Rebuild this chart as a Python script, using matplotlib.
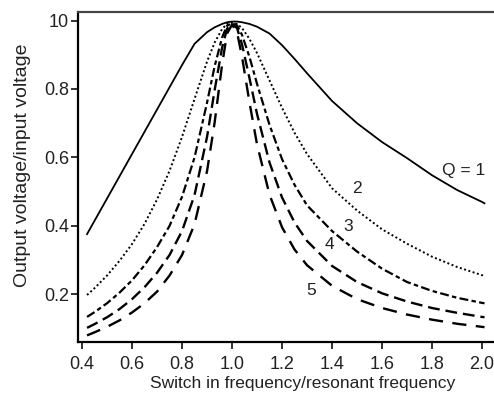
import matplotlib
matplotlib.use("Agg")
import matplotlib.pyplot as plt

plt.rcParams['font.family'] = ['Liberation Sans', 'DejaVu Sans']

# frequency ratio (switching / resonant)
freq = [0.42, 0.45, 0.5, 0.55, 0.6, 0.65, 0.7, 0.75, 0.8, 0.85, 0.9, 0.93,
        0.96, 0.98, 1.0, 1.02, 1.04, 1.07, 1.1, 1.15, 1.2, 1.25, 1.3, 1.4,
        1.5, 1.6, 1.7, 1.8, 1.9, 2.0, 2.01]

# output/input voltage
q1 = [0.376, 0.415, 0.480, 0.545, 0.610, 0.675, 0.740, 0.805, 0.870, 0.932,
      0.966, 0.980, 0.990, 0.995, 0.997, 0.997, 0.995, 0.990, 0.982, 0.962,
      0.928, 0.888, 0.846, 0.765, 0.700, 0.645, 0.598, 0.548, 0.505, 0.470, 0.466]
q2 = [0.198, 0.218, 0.255, 0.298, 0.347, 0.406, 0.477, 0.561, 0.660, 0.771,
      0.880, 0.935, 0.975, 0.990, 0.993, 0.990, 0.978, 0.946, 0.905, 0.825,
      0.745, 0.672, 0.610, 0.510, 0.445, 0.390, 0.348, 0.310, 0.280, 0.256, 0.254]
q3 = [0.134, 0.148, 0.174, 0.205, 0.241, 0.285, 0.338, 0.400, 0.485, 0.600,
      0.760, 0.865, 0.950, 0.985, 0.992, 0.986, 0.958, 0.893, 0.815, 0.695,
      0.595, 0.520, 0.460, 0.385, 0.325, 0.275, 0.236, 0.210, 0.190, 0.175, 0.174]
q4 = [0.102, 0.113, 0.133, 0.157, 0.186, 0.221, 0.263, 0.315, 0.385, 0.490,
      0.660, 0.795, 0.920, 0.976, 0.990, 0.978, 0.930, 0.831, 0.727, 0.585,
      0.483, 0.410, 0.356, 0.283, 0.236, 0.203, 0.179, 0.160, 0.146, 0.134, 0.133]
q5 = [0.080, 0.089, 0.105, 0.124, 0.147, 0.174, 0.208, 0.255, 0.315, 0.405,
      0.560, 0.700, 0.870, 0.962, 0.988, 0.966, 0.894, 0.760, 0.638, 0.491,
      0.396, 0.331, 0.285, 0.225, 0.186, 0.160, 0.141, 0.126, 0.114, 0.105, 0.104]

labels = ['Q = 1', '2', '3', '4', '5']
label_x = [1.926, 1.50, 1.465, 1.388, 1.316]
label_y = [0.563, 0.51, 0.398, 0.347, 0.21]

xticks = [0.4, 0.6, 0.8, 1.0, 1.2, 1.4, 1.6, 1.8, 2.0]
yticks = [0.2, 0.4, 0.6, 0.8, 1.0]
ytick_labels = ['0.2', '0.4', '0.6', '0.8', '10']

fig = plt.figure(figsize=(4.94, 3.95), dpi=100)
ax = fig.add_axes([0.158, 0.134, 0.842, 0.836])

ax.plot(freq, q1, color='black', lw=1.3, ls='-')
ax.plot(freq, q2, color='black', lw=1.4, ls=(0, (1, 1.3)))
ax.plot(freq, q3, color='black', lw=1.6, ls=(0, (4, 1.5, 2, 1.5)))
ax.plot(freq, q4, color='black', lw=1.7, ls=(0, (5, 2.5)))
ax.plot(freq, q5, color='black', lw=1.7, ls=(0, (6, 4)))

for t, x, y in zip(labels, label_x, label_y):
    ax.text(x, y, t, ha='center', va='center', fontsize=12.5, color='#222222')

ax.set_xlim(0.384, 2.048)
ax.set_ylim(0.0605, 1.0254)
ax.set_xticks(xticks)
ax.set_xticklabels([f'{v:.1f}' for v in xticks])
ax.set_yticks(yticks)
ax.set_yticklabels(ytick_labels)
ax.tick_params(direction='out', length=5, width=1.3, labelsize=13,
               colors='#222222')
ax.tick_params(axis='x', pad=5)
ax.tick_params(axis='y', pad=1.5)

ax.spines['right'].set_visible(False)
ax.spines['left'].set_linewidth(1.6)
ax.spines['bottom'].set_linewidth(1.6)
ax.spines['top'].set_linewidth(1.6)
ax.spines['top'].set_color('#444444')

ax.set_xlabel('Switch in frequency/resonant frequency', fontsize=12.5, color='#222222')
ax.set_ylabel('Output voltage/input voltage', fontsize=14, color='#222222')
ax.xaxis.set_label_coords(0.54, -0.103)
ax.yaxis.set_label_coords(-0.112, 0.536)

fig.savefig('out.png', dpi=100)
